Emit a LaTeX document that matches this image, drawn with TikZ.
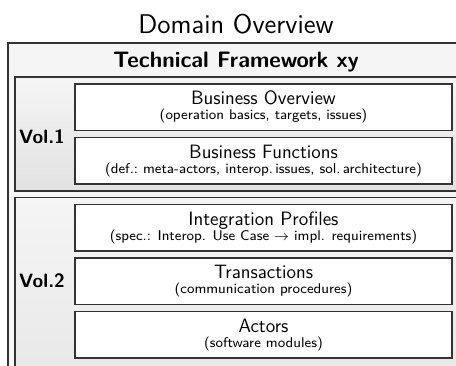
\documentclass[tikz,border=0pt]{standalone}
\usepackage{amsmath}
\renewcommand{\familydefault}{\sfdefault}
\newcommand{\partsub}[1]{{\footnotesize #1}}

\begin{document}
\begin{tikzpicture}[
    frame/.style={draw=black!80, line width=1pt},
    vol/.style={frame, top color=gray!8, bottom color=gray!23},
    part/.style={frame, fill=white, minimum width=7.54cm, minimum height=0.93cm,
      inner sep=0pt, align=center, font=\fontsize{11}{13.6}\selectfont},
    vollabel/.style={anchor=east, font=\fontsize{11}{13}\selectfont\bfseries}]
  \clip (0,0) rectangle (9.12,-7.3);
  \node[anchor=base, font=\fontsize{15.4}{18}\selectfont] (title) at (4.72,-0.66) {Domain Overview};
  \draw[frame, fill=gray!8] (0.16,-0.86) rectangle (9.28,-9.4);
  \node[anchor=base, font=\fontsize{12.7}{15}\selectfont\bfseries] (tf) at (4.72,-1.35) {Technical Framework xy};

  \draw[vol] (0.3,-1.54) rectangle (9.14,-3.82);
  \node[part] (bo) at (5.27,-2.145) {Business Overview\\[-5pt]\partsub{(operation basics, targets, issues)}};
  \node[part] (bf) at (5.27,-3.215) {Business Functions\\[-5pt]\partsub{(def.:\ meta-actors, interop.\,issues, sol.\,architecture)}};
  \node[vollabel] (vone) at (1.42,-2.74) {Vol.1};

  \draw[vol] (0.3,-3.95) rectangle (9.14,-9.26);
  \node[part] (ip) at (5.27,-4.555) {Integration Profiles\\[-5pt]\partsub{(spec.: Interop. Use Case $\rightarrow$ impl. requirements)}};
  \node[part] (tr) at (5.27,-5.625) {Transactions\\[-5pt]\partsub{(communication procedures)}};
  \node[part] (ac) at (5.27,-6.695) {Actors\\[-5pt]\partsub{(software modules)}};
  \node[vollabel] (vtwo) at (1.42,-5.62) {Vol.2};
\end{tikzpicture}
\end{document}
